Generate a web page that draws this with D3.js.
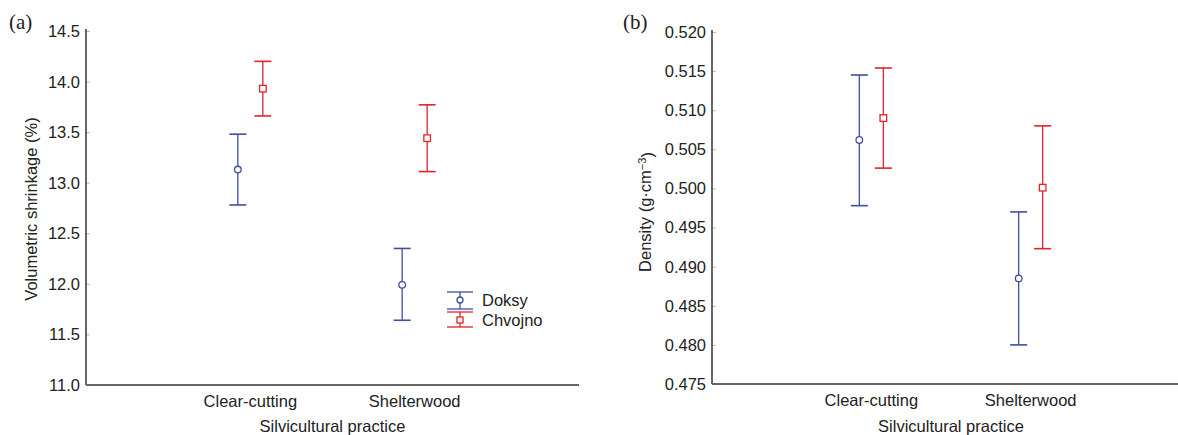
<!DOCTYPE html>
<html><head><meta charset="utf-8">
<script src="https://cdn.jsdelivr.net/npm/d3@7"></script>
<style>
body{margin:0;background:#fff;}
svg{display:block;}
text{font-family:"Liberation Sans",Arial,sans-serif;fill:#222;}
</style></head>
<body>
<svg id="chart" width="1178" height="435"></svg>
<script>
const categories = ["Clear-cutting", "Shelterwood"];
const seriesNames = ["Doksy", "Chvojno"];
// Panel (a): Volumetric shrinkage (%)
const shrinkDoksyMean  = [13.13, 11.99];
const shrinkDoksyLow   = [12.78, 11.64];
const shrinkDoksyHigh  = [13.48, 12.35];
const shrinkChvojnoMean = [13.93, 13.44];
const shrinkChvojnoLow  = [13.66, 13.11];
const shrinkChvojnoHigh = [14.20, 13.77];
const shrinkTicks = [11.0, 11.5, 12.0, 12.5, 13.0, 13.5, 14.0, 14.5];
// Panel (b): Density (g·cm-3)
const densDoksyMean  = [0.5062, 0.4885];
const densDoksyLow   = [0.4978, 0.4800];
const densDoksyHigh  = [0.5145, 0.4970];
const densChvojnoMean = [0.5090, 0.5001];
const densChvojnoLow  = [0.5026, 0.4923];
const densChvojnoHigh = [0.5154, 0.5080];
const densTicks = [0.475, 0.480, 0.485, 0.490, 0.495, 0.500, 0.505, 0.510, 0.515, 0.520];

const BLUE = "#3f4fa2", RED = "#e3232c";
const svg = d3.select("#chart");
const FS = "16.5px";

function panel(cfg) {
  const g = svg.append("g");
  const x = d3.scalePoint().domain(categories).range([cfg.x0, cfg.x1]).padding(1);
  const y = d3.scaleLinear().domain(cfg.domain).range([cfg.yb, cfg.yt]);

  // y axis
  const ya = g.append("g").attr("transform", `translate(${cfg.x0},0)`)
    .call(d3.axisRight(y).tickValues(cfg.ticks).tickSize(4).tickFormat(() => ""));
  ya.select(".domain").remove();
  ya.selectAll(".tick line").attr("stroke", "#bbb");
  g.append("line").attr("x1", cfg.x0).attr("x2", cfg.x0).attr("y1", cfg.yt - 2).attr("y2", cfg.yb)
    .attr("stroke", "#333").attr("stroke-width", 1.5);
  g.selectAll("text.ytick").data(cfg.ticks).join("text").attr("class", "ytick")
    .attr("x", cfg.x0 - 6).attr("y", d => y(d)).attr("dy", "0.36em")
    .attr("text-anchor", "end").style("font-size", FS).text(d => d3.format(cfg.fmt)(d));

  // x axis
  g.append("line").attr("x1", cfg.x0).attr("x2", cfg.x1).attr("y1", cfg.yb).attr("y2", cfg.yb)
    .attr("stroke", "#666").attr("stroke-width", 2);
  g.selectAll("text.xtick").data(categories).join("text").attr("class", "xtick")
    .attr("x", d => x(d)).attr("y", cfg.yb + 22).attr("text-anchor", "middle")
    .style("font-size", FS).text(d => d);
  g.append("text").attr("x", (x(categories[0]) + x(categories[1])) / 2).attr("y", 432)
    .attr("text-anchor", "middle").style("font-size", FS).text("Silvicultural practice");

  // y label
  const yl = g.append("text").attr("transform", `translate(${cfg.ylx},${cfg.yly}) rotate(-90)`)
    .attr("text-anchor", "middle").style("font-size", FS);
  cfg.ylabel(yl);

  // panel letter
  g.append("text").attr("x", cfg.lx).attr("y", 29)
    .style("font-family", "'Liberation Serif','DejaVu Serif',serif").style("font-size", "21px")
    .text(cfg.letter);

  // series
  const series = [
    {mean: cfg.s[0].mean, low: cfg.s[0].low, high: cfg.s[0].high, color: BLUE, off: -cfg.off, shape: "circle"},
    {mean: cfg.s[1].mean, low: cfg.s[1].low, high: cfg.s[1].high, color: RED, off: cfg.off, shape: "square"}
  ];
  series.forEach(s => {
    const pts = categories.map((c, i) => ({cx: x(c) + s.off, m: s.mean[i], lo: s.low[i], hi: s.high[i]}));
    const sg = g.append("g").attr("stroke", s.color).attr("fill", "#fff").attr("stroke-width", 1.3);
    sg.selectAll("line.stem").data(pts).join("line").attr("class", "stem")
      .attr("x1", d => d.cx).attr("x2", d => d.cx).attr("y1", d => y(d.hi)).attr("y2", d => y(d.lo));
    ["hi", "lo"].forEach(k => {
      sg.selectAll("line.cap" + k).data(pts).join("line").attr("class", "cap" + k)
        .attr("x1", d => d.cx - 8.5).attr("x2", d => d.cx + 8.5)
        .attr("y1", d => y(d[k])).attr("y2", d => y(d[k])).attr("stroke-width", 1.6);
    });
    if (s.shape === "circle") {
      sg.selectAll("circle").data(pts).join("circle").attr("cx", d => d.cx).attr("cy", d => y(d.m)).attr("r", 3.3);
    } else {
      sg.selectAll("rect").data(pts).join("rect").attr("x", d => d.cx - 3.3).attr("y", d => y(d.m) - 3.3)
        .attr("width", 6.6).attr("height", 6.6);
    }
  });
  return g;
}

panel({
  x0: 86, x1: 579, yt: 31, yb: 385, domain: [11.0, 14.5], ticks: shrinkTicks, fmt: ".1f", off: 12.5,
  ylx: 37, yly: 209, lx: 9, letter: "(a)",
  ylabel: t => t.text("Volumetric shrinkage (%)"),
  s: [{mean: shrinkDoksyMean, low: shrinkDoksyLow, high: shrinkDoksyHigh},
      {mean: shrinkChvojnoMean, low: shrinkChvojnoLow, high: shrinkChvojnoHigh}]
});
panel({
  x0: 712, x1: 1190, yt: 32, yb: 384, domain: [0.475, 0.520], ticks: densTicks, fmt: ".3f", off: 12,
  ylx: 651, yly: 212, lx: 623, letter: "(b)",
  ylabel: t => { t.append("tspan").text("Density (g·cm");
                 t.append("tspan").attr("dy", "-0.45em").style("font-size", "11px").text("−3");
                 t.append("tspan").attr("dy", "0.45em").text(")"); },
  s: [{mean: densDoksyMean, low: densDoksyLow, high: densDoksyHigh},
      {mean: densChvojnoMean, low: densChvojnoLow, high: densChvojnoHigh}]
});

// legend (panel a)
const leg = svg.append("g");
const legItems = [
  {name: seriesNames[0], color: BLUE, top: 292, mid: 300, bot: 309, shape: "circle", ty: 306},
  {name: seriesNames[1], color: RED, top: 312, mid: 320, bot: 327, shape: "square", ty: 326}
];
legItems.forEach(it => {
  const lg = leg.append("g").attr("stroke", it.color).attr("fill", "#fff").attr("stroke-width", 1.3);
  lg.append("line").attr("x1", 460).attr("x2", 460).attr("y1", it.top).attr("y2", it.bot);
  lg.append("line").attr("x1", 447).attr("x2", 473).attr("y1", it.top).attr("y2", it.top);
  lg.append("line").attr("x1", 447).attr("x2", 473).attr("y1", it.bot).attr("y2", it.bot);
  if (it.shape === "circle") lg.append("circle").attr("cx", 460).attr("cy", it.mid).attr("r", 3);
  else lg.append("rect").attr("x", 457).attr("y", it.mid - 3).attr("width", 6).attr("height", 6);
  leg.append("text").attr("x", 482).attr("y", it.ty).style("font-size", FS).text(it.name);
});
</script>
</body></html>
